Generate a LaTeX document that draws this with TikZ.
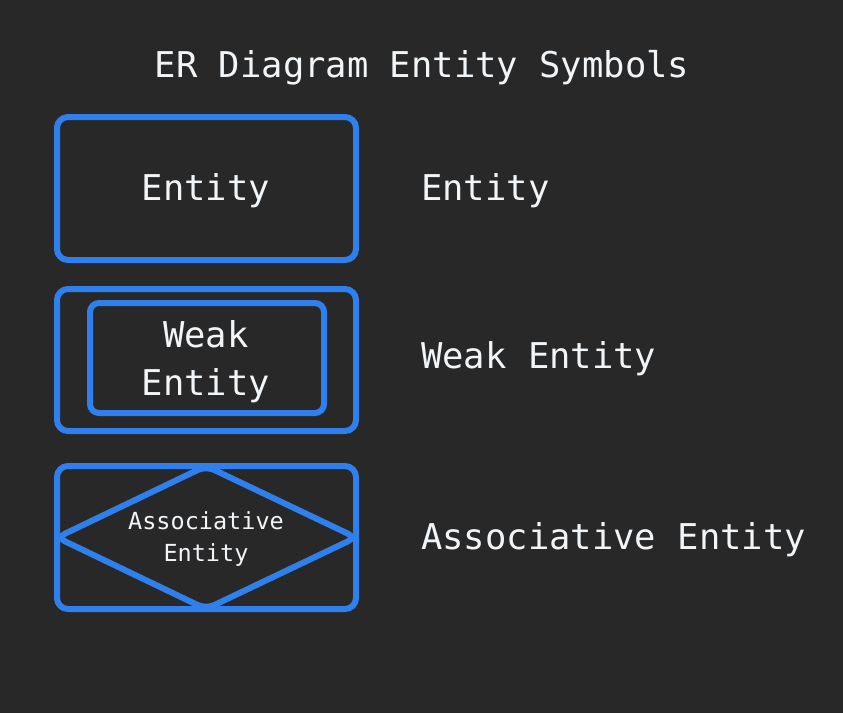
\documentclass[tikz,border=0pt]{standalone}
\usepackage{fontspec}
\setmonofont{DejaVu Sans Mono}
\definecolor{bg}{HTML}{282828}
\definecolor{blu}{HTML}{2F80ED}
\definecolor{txt}{HTML}{F2F5F8}
\begin{document}
\begin{tikzpicture}[x=1pt,y=-1pt,
  box/.style={draw=blu,line width=6pt,rounded corners=11pt},
  big/.style={text=txt,font=\ttfamily\fontsize{35.5}{48}\selectfont,align=center,inner sep=0pt},
  small/.style={text=txt,font=\ttfamily\fontsize{23.5}{32}\selectfont,align=center,inner sep=0pt}]
\fill[bg] (0,0) rectangle (843,713);
\useasboundingbox (0,0) rectangle (843,713);
\node[big] (title) at (422,68) {ER Diagram Entity Symbols};
% Entity
\draw[box] (57,117) rectangle (356,260);
\node[big] (e1) at (206,191) {Entity};
\node[big,anchor=west] (l1) at (421,191) {Entity};
% Weak entity
\draw[box] (57,289) rectangle (356,431);
\draw[box,rounded corners=9pt] (90,303) rectangle (324,413);
\node[big] (e2) at (206,362) {Weak\\[0pt]Entity};
\node[big,anchor=west] (l2) at (421,359) {Weak Entity};
% Associative entity
\draw[box] (57,466) rectangle (356,609);
\draw[draw=blu,line width=6pt,rounded corners=9pt] (206,466) -- (356,537.5) -- (206,609) -- (57,537.5) -- cycle;
\node[small] (e3) at (206,539) {Associative\\[0pt]Entity};
\node[big,anchor=west] (l3) at (421,540) {Associative Entity};
\end{tikzpicture}
\end{document}
